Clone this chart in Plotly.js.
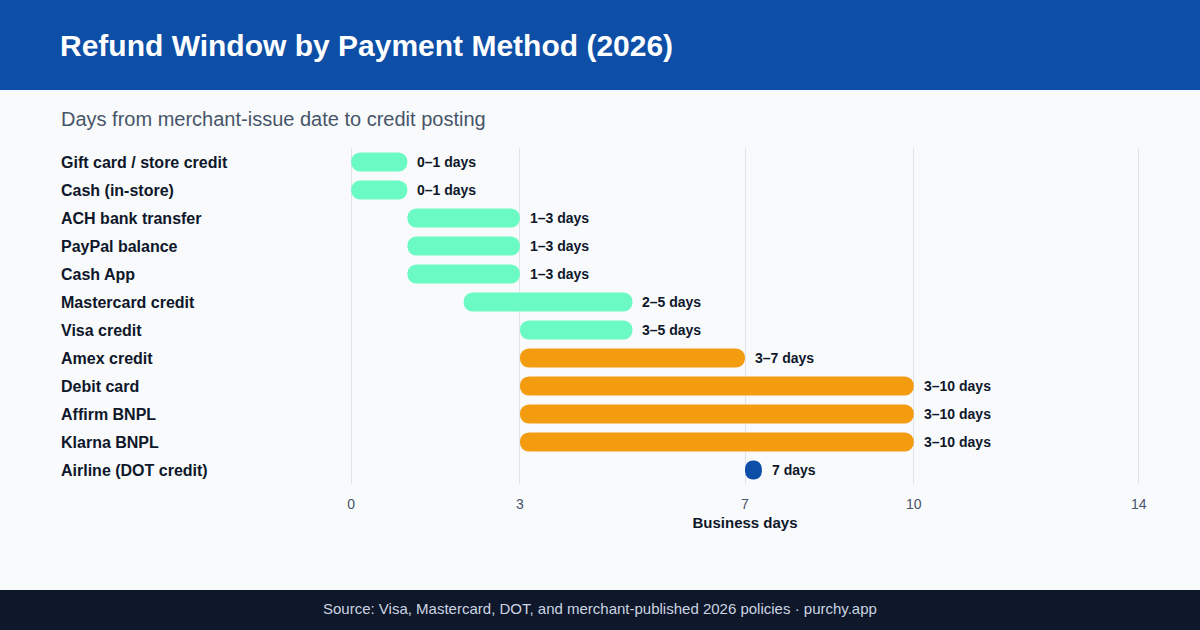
<!DOCTYPE html>
<html>
<head>
<meta charset="utf-8">
<script src="https://cdn.plot.ly/plotly-3.0.1.min.js"></script>
<style>
  html, body { margin: 0; padding: 0; background: #f8fafc; }
  #chart { width: 1200px; height: 630px; }
</style>
</head>
<body>
<div id="chart"></div>
<script>
var methods = ['Gift card / store credit', 'Cash (in-store)', 'ACH bank transfer', 'PayPal balance', 'Cash App',
  'Mastercard credit', 'Visa credit', 'Amex credit', 'Debit card', 'Affirm BNPL', 'Klarna BNPL', 'Airline (DOT credit)'];
var minDays = [0, 0, 1, 1, 1, 2, 3, 3, 3, 3, 3, 7];
var maxDays = [1, 1, 3, 3, 3, 5, 5, 7, 10, 10, 10, 7];
var tier = ['fast', 'fast', 'fast', 'fast', 'fast', 'fast', 'fast', 'slow', 'slow', 'slow', 'slow', 'fixed'];
var tickVals = [0, 3, 7, 10, 14];

var tierColor = { fast: '#6bfac4', slow: '#f39c0f', fixed: '#0d4ea6' };
var FONT = 'Liberation Sans, Arial, sans-serif';
var minSpan = 0.3; // a single-day point still shows as a dot

var ends = [], spans = [], colors = [], labels = [];
for (var i = 0; i < methods.length; i++) {
  var e = Math.max(maxDays[i], minDays[i] + minSpan);
  ends.push(e);
  spans.push(e - minDays[i]);
  colors.push(tierColor[tier[i]]);
  labels.push(minDays[i] === maxDays[i] ? minDays[i] + ' days' : minDays[i] + '\u2013' + maxDays[i] + ' days');
}

var ranges = {
  type: 'bar', orientation: 'h', y: methods,
  base: minDays, x: spans,
  marker: { color: colors, cornerradius: 10, line: { width: 0 } },
  hoverinfo: 'skip', width: 0.68
};

var LEFT = -0.3685;
var annotations = [];
for (var j = 0; j < methods.length; j++) {
  annotations.push({
    x: ends[j], y: methods[j], xref: 'x', yref: 'y',
    text: '<b>' + labels[j] + '</b>', showarrow: false,
    xanchor: 'left', yanchor: 'middle', xshift: 8,
    font: { family: FONT, size: 14, color: '#0f172a' }
  });
  annotations.push({
    x: LEFT, y: methods[j], xref: 'paper', yref: 'y',
    text: '<b>' + methods[j] + '</b>', showarrow: false,
    xanchor: 'left', yanchor: 'middle',
    font: { family: FONT, size: 16, color: '#0f172a' }
  });
}
annotations.push({
  x: LEFT, y: 1 + 29 / 336, xref: 'paper', yref: 'paper',
  text: 'Days from merchant-issue date to credit posting', showarrow: false,
  xanchor: 'left', yanchor: 'middle',
  font: { family: FONT, size: 20, color: '#475569' }
});
annotations.push({
  x: (600 - 350) / 790, xref: 'paper', y: -124 / 336, yref: 'paper',
  text: 'Source: Visa, Mastercard, DOT, and merchant-published 2026 policies \u00b7 purchy.app',
  showarrow: false, xanchor: 'center', yanchor: 'middle',
  font: { family: FONT, size: 15, color: '#cbd5e1' }
});

var layout = {
  width: 1200, height: 630,
  paper_bgcolor: '#f8fafc', plot_bgcolor: '#f8fafc',
  margin: { l: 350, r: 60, t: 148, b: 146 },
  showlegend: false,
  barmode: 'overlay',
  title: {
    text: '<b>Refund Window by Payment Method (2026)</b>',
    x: 0.05, xanchor: 'left', xref: 'container',
    y: 1 - 45 / 630, yanchor: 'middle', yref: 'container',
    font: { family: FONT, size: 30, color: '#ffffff' }
  },
  xaxis: {
    range: [-0.02, 14.02], tickvals: tickVals, ticktext: tickVals.map(String),
    showgrid: true, gridcolor: '#dfe4ec', gridwidth: 1,
    zeroline: false, showline: false, ticks: '', ticklabelstandoff: 10,
    tickfont: { family: FONT, size: 14, color: '#475569' },
    title: { text: '<b>Business days</b>', standoff: 6, font: { family: FONT, size: 15, color: '#0f172a' } },
    fixedrange: true
  },
  yaxis: {
    type: 'category', autorange: 'reversed', showticklabels: false,
    showgrid: false, zeroline: false, showline: false, fixedrange: true
  },
  shapes: [
    { type: 'rect', xref: 'paper', yref: 'paper', x0: -0.5, x1: 1.2, y0: 1 + 58 / 336, y1: 1.5,
      fillcolor: '#0d4ea6', line: { width: 0 }, layer: 'below' },
    { type: 'rect', xref: 'paper', yref: 'paper', x0: -0.5, x1: 1.2, y0: -0.5, y1: -106 / 336,
      fillcolor: '#0f172a', line: { width: 0 }, layer: 'below' }
  ],
  annotations: annotations
};

Plotly.newPlot('chart', [ranges], layout, { displayModeBar: false, staticPlot: true });
</script>
</body>
</html>
